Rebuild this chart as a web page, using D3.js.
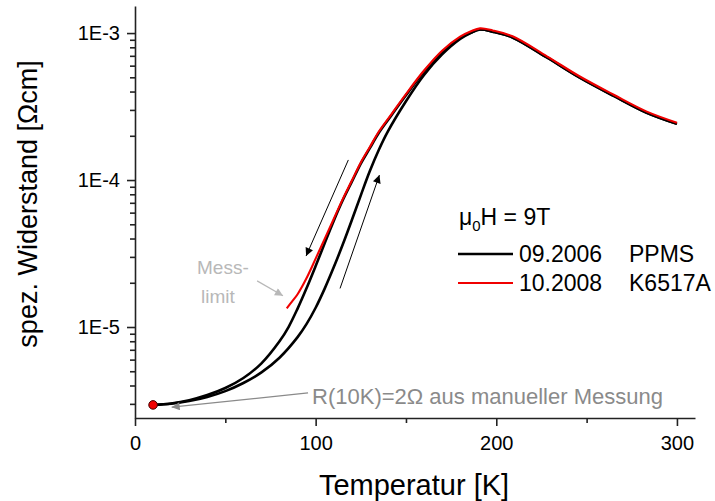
<!DOCTYPE html>
<html>
<head>
<meta charset="utf-8">
<script src="https://cdn.jsdelivr.net/npm/d3@7"></script>
<style>
  html, body { margin: 0; padding: 0; background: #fff; }
  svg { display: block; font-family: "Liberation Sans", Arial, sans-serif; }
  .axis path, .axis line { stroke: #222; stroke-width: 1.6; }
  .axis text { font-size: 20px; fill: #000; }
</style>
</head>
<body>
<svg id="chart" width="715" height="501"></svg>
<script>
/* ── Data ──────────────────────────────────────────────────────── */
// 09.2006 PPMS, warming branch (right black curve)
const warmT   = [10, 20, 30, 40, 50, 60, 70, 80, 90, 95, 100, 105, 110, 115, 120, 125, 130, 135, 140, 150, 160, 170, 180, 186, 191, 198, 209, 228, 246, 265, 283, 300];
const warmRho = [2.951e-6, 3.006e-6, 3.133e-6, 3.342e-6, 3.664e-6, 4.159e-6, 4.909e-6, 6.180e-6, 8.531e-6, 1.050e-5, 1.352e-5, 1.824e-5, 2.547e-5, 3.639e-5, 5.321e-5, 7.870e-5, 1.151e-4, 1.607e-4, 2.143e-4, 3.436e-4, 5.188e-4, 7.161e-4, 9.120e-4, 1.005e-3, 1.057e-3, 1.023e-3, 9.333e-4, 6.823e-4, 4.989e-4, 3.733e-4, 2.877e-4, 2.410e-4];

// 09.2006 PPMS, cooling branch (left black curve, hidden under red above ~100 K)
const coolT   = [10, 20, 30, 40, 50, 60, 70, 80, 85, 90, 95, 100, 105, 110, 115, 120, 125, 130, 135, 142, 150, 160, 170, 180, 186, 191, 198, 209, 228, 246, 265, 283, 300];
const coolRho = [2.951e-6, 3.020e-6, 3.177e-6, 3.443e-6, 3.846e-6, 4.498e-6, 5.662e-6, 7.998e-6, 1.000e-5, 1.334e-5, 1.841e-5, 2.600e-5, 3.715e-5, 5.272e-5, 7.278e-5, 9.705e-5, 1.294e-4, 1.648e-4, 2.099e-4, 2.761e-4, 3.776e-4, 5.458e-4, 7.447e-4, 9.268e-4, 1.009e-3, 1.057e-3, 1.023e-3, 9.333e-4, 6.823e-4, 4.989e-4, 3.733e-4, 2.877e-4, 2.410e-4];

// 10.2008 K6517A (red curve, ends at the measurement limit)
const redT   = [84, 87, 90, 95, 100, 105, 110, 115, 120, 125, 130, 135, 142, 150, 160, 170, 180, 186, 191, 198, 209, 228, 246, 265, 283, 300];
const redRho = [1.340e-5, 1.496e-5, 1.671e-5, 2.153e-5, 2.917e-5, 3.981e-5, 5.433e-5, 7.413e-5, 9.886e-5, 1.318e-4, 1.679e-4, 2.138e-4, 2.812e-4, 3.846e-4, 5.559e-4, 7.586e-4, 9.441e-4, 1.028e-3, 1.076e-3, 1.042e-3, 9.506e-4, 6.950e-4, 5.082e-4, 3.802e-4, 2.931e-4, 2.455e-4];

// manual measurement at 10 K
const manualT = [10];
const manualRho = [2.951e-6];

// axis ticks
const xMajor = [0, 100, 200, 300];
const xMinor = [50, 150, 250];
const yMajor = [1e-5, 1e-4, 1e-3];
const yMajorLabels = ["1E-5", "1E-4", "1E-3"];
const yMinor = [3e-6, 4e-6, 5e-6, 6e-6, 7e-6, 8e-6, 9e-6,
                2e-5, 3e-5, 4e-5, 5e-5, 6e-5, 7e-5, 8e-5, 9e-5,
                2e-4, 3e-4, 4e-4, 5e-4, 6e-4, 7e-4, 8e-4, 9e-4];

// legend
const legendTitle = "H = 9T";
const legendDates = ["09.2006", "10.2008"];
const legendDevices = ["PPMS", "K6517A"];

/* ── Scales ─────────────────────────────────────────────────────── */
const svg = d3.select("#chart");
const x = d3.scaleLinear().domain([0, 310]).range([135, 695]);
const y = d3.scaleLog().domain([2.404e-6, 1.528e-3]).range([418, 6]);

const line = d3.line()
  .x(d => x(d[0]))
  .y(d => y(d[1]))
  .curve(d3.curveCatmullRom.alpha(0.5));

const zip = (a, b) => a.map((v, i) => [v, b[i]]);

/* ── Arrow markers ──────────────────────────────────────────────── */
const defs = svg.append("defs");
[["arrBlack", "#000"], ["arrGrey", "#8a8a8a"], ["arrLight", "#b8b8b8"]].forEach(([id, c]) => {
  defs.append("marker")
    .attr("id", id)
    .attr("viewBox", "0 0 10 10")
    .attr("refX", 10).attr("refY", 5)
    .attr("markerWidth", 12).attr("markerHeight", 8)
    .attr("markerUnits", "userSpaceOnUse")
    .attr("orient", "auto")
    .append("path").attr("d", "M0,0 L10,5 L0,10 Z").attr("fill", c);
});

/* ── Curves ─────────────────────────────────────────────────────── */
svg.append("path").datum(zip(coolT, coolRho))
  .attr("d", line).attr("fill", "none")
  .attr("stroke", "#000").attr("stroke-width", 2.6);

svg.append("path").datum(zip(warmT, warmRho))
  .attr("d", line).attr("fill", "none")
  .attr("stroke", "#000").attr("stroke-width", 2.6);

svg.append("path").datum(zip(redT, redRho))
  .attr("d", line).attr("fill", "none")
  .attr("stroke", "#f00000").attr("stroke-width", 2.1);

svg.selectAll("circle.manual").data(zip(manualT, manualRho)).join("circle")
  .attr("class", "manual")
  .attr("cx", d => x(d[0])).attr("cy", d => y(d[1]))
  .attr("r", 4.3)
  .attr("fill", "#f00000").attr("stroke", "#400").attr("stroke-width", 1);

/* ── Axes ───────────────────────────────────────────────────────── */
const gx = svg.append("g").attr("class", "axis").attr("transform", `translate(0,${y.range()[0]})`);
gx.call(d3.axisBottom(x).tickValues(xMajor).tickSize(8).tickPadding(10).tickSizeOuter(0).tickFormat(d3.format("d")));
svg.append("g").attr("class", "axis").attr("transform", `translate(0,${y.range()[0]})`)
  .call(d3.axisBottom(x).tickValues(xMinor).tickSize(5).tickSizeOuter(0).tickFormat(""))
  .select(".domain").remove();

const gy = svg.append("g").attr("class", "axis").attr("transform", `translate(${x.range()[0]},0)`);
gy.call(d3.axisLeft(y).tickValues(yMajor).tickSize(8).tickPadding(7).tickSizeOuter(0)
  .tickFormat((d, i) => yMajorLabels[i]));
svg.append("g").attr("class", "axis").attr("transform", `translate(${x.range()[0]},0)`)
  .call(d3.axisLeft(y).tickValues(yMinor).tickSize(5).tickSizeOuter(0).tickFormat(""))
  .select(".domain").remove();

/* ── Axis titles ────────────────────────────────────────────────── */
svg.append("text")
  .attr("x", 414).attr("y", 495)
  .attr("text-anchor", "middle")
  .attr("font-size", 29)
  .text("Temperatur [K]");

svg.append("text")
  .attr("transform", "translate(37,204) rotate(-90)")
  .attr("text-anchor", "middle")
  .attr("font-size", 27)
  .text("spez. Widerstand [\u03A9cm]");

/* ── Annotations ────────────────────────────────────────────────── */
// direction arrows (cooling / warming)
svg.append("line")
  .attr("x1", x(118.1)).attr("y1", y(1.37e-4))
  .attr("x2", x(94.7)).attr("y2", y(3.04e-5))
  .attr("stroke", "#000").attr("stroke-width", 1)
  .attr("marker-end", "url(#arrBlack)");
svg.append("line")
  .attr("x1", x(113.5)).attr("y1", y(1.83e-5))
  .attr("x2", x(135.3)).attr("y2", y(1.08e-4))
  .attr("stroke", "#000").attr("stroke-width", 1)
  .attr("marker-end", "url(#arrBlack)");

// manual measurement note
svg.append("line")
  .attr("x1", x(95.8)).attr("y1", y(3.56e-6))
  .attr("x2", x(20.3)).attr("y2", y(2.85e-6))
  .attr("stroke", "#8a8a8a").attr("stroke-width", 1.2)
  .attr("marker-end", "url(#arrGrey)");
svg.append("text")
  .attr("x", x(98)).attr("y", 404)
  .attr("font-size", 22).attr("fill", "#8a8a8a")
  .text("R(10K)=2\u03A9 aus manueller Messung");

// measurement limit note
svg.append("line")
  .attr("x1", x(67.6)).attr("y1", y(2.06e-5))
  .attr("x2", x(81.9)).attr("y2", y(1.63e-5))
  .attr("stroke", "#b8b8b8").attr("stroke-width", 1.2)
  .attr("marker-end", "url(#arrLight)");
const ml = svg.append("g").attr("font-size", 19).attr("fill", "#b8b8b8");
ml.append("text").attr("x", 197).attr("y", 274).text("Mess-");
ml.append("text").attr("x", 201).attr("y", 303).text("limit");

/* ── Legend ─────────────────────────────────────────────────────── */
const lg = svg.append("g").attr("font-size", 23).attr("fill", "#000");
const lt = lg.append("text").attr("x", 459).attr("y", 225);
lt.append("tspan").text("\u03BC");
lt.append("tspan").attr("font-size", 15).attr("dy", 6).text("0");
lt.append("tspan").attr("dy", -6).text(legendTitle);

const legendColors = ["#000", "#f00000"];
legendDates.forEach((d, i) => {
  const cy = 254 + i * 29;
  lg.append("line")
    .attr("x1", 458).attr("x2", 513).attr("y1", cy).attr("y2", cy)
    .attr("stroke", legendColors[i]).attr("stroke-width", i ? 2.1 : 2.6);
  lg.append("text").attr("x", 519).attr("y", cy + 8).text(d);
  lg.append("text").attr("x", 629).attr("y", cy + 8).text(legendDevices[i]);
});
</script>
</body>
</html>
